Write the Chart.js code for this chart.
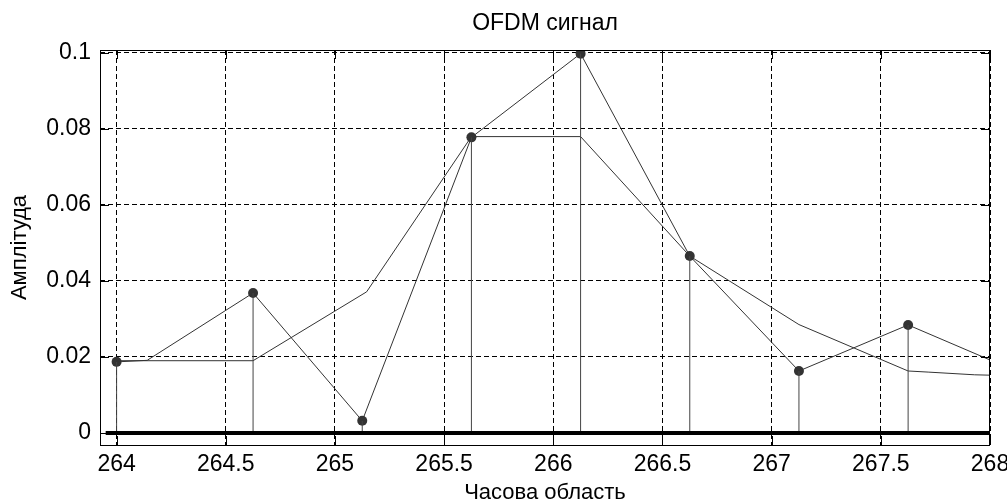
<!DOCTYPE html>
<html>
<head>
<meta charset="utf-8">
<script src="https://cdn.jsdelivr.net/npm/chart.js@4.4.1/dist/chart.umd.min.js"></script>
<style>
  html, body { margin: 0; padding: 0; background: #fff; }
  canvas { display: block; }
</style>
</head>
<body>
<canvas id="chart" width="1007" height="504"></canvas>
<script>
// Sampled points (stems with dots)
const stemX = [264, 264.625, 265.125, 265.625, 266.125, 266.625, 267.125, 267.625];
const stemY = [0.0187, 0.0368, 0.0032, 0.0777, 0.0997, 0.0465, 0.0163, 0.0284];

// Line joining the samples
const lineAX = [264, 264.14, 264.625, 265.125, 265.625, 266.125, 266.625, 267.125, 267.625, 268];
const lineAY = [0.0187, 0.0191, 0.0368, 0.0032, 0.0777, 0.0997, 0.0465, 0.0163, 0.0284, 0.0192];

// Second (reference) line
const lineBX = [264, 264.625, 265.145, 265.625, 266.125, 266.625, 267.125, 267.625, 267.72, 267.93, 268];
const lineBY = [0.0190, 0.0190, 0.0371, 0.0779, 0.0779, 0.0465, 0.0285, 0.0163, 0.0160, 0.0153, 0.0152];

// Stem baseline
const baseX = [263.95, 268];
const baseY = [0, 0];

// Axes
const xTicks = [264, 264.5, 265, 265.5, 266, 266.5, 267, 267.5, 268];
const xTickLabels = ['264', '264.5', '265', '265.5', '266', '266.5', '267', '267.5', '268'];
const yTicks = [0, 0.02, 0.04, 0.06, 0.08, 0.1];
const yTickLabels = ['0', '0.02', '0.04', '0.06', '0.08', '0.1'];

const FONT = '"Liberation Sans", Arial, sans-serif';
const toPts = (xs, ys) => xs.map((x, i) => ({ x: x, y: ys[i] }));

// vertical stems: 0 -> value, broken by null gaps
const stemPts = [];
stemX.forEach((x, i) => {
  stemPts.push({ x: x, y: 0 }, { x: x, y: stemY[i] }, { x: x, y: null });
});

// box frame + inward tick marks, MATLAB style
const frameTicks = {
  id: 'frameTicks',
  afterDatasetsDraw(chart) {
    const { ctx, chartArea: a, scales: { x, y } } = chart;
    const len = 9;
    ctx.save();
    ctx.strokeStyle = '#000';
    ctx.lineWidth = 1;
    ctx.beginPath();
    xTicks.forEach(v => {
      const px = Math.round(x.getPixelForValue(v)) + 0.5;
      ctx.moveTo(px, a.bottom); ctx.lineTo(px, a.bottom - len);
      ctx.moveTo(px, a.top); ctx.lineTo(px, a.top + len);
    });
    yTicks.forEach(v => {
      const py = Math.round(y.getPixelForValue(v)) + 0.5;
      ctx.moveTo(a.left, py); ctx.lineTo(a.left + len, py);
      ctx.moveTo(a.right, py); ctx.lineTo(a.right - len, py);
    });
    ctx.stroke();
    ctx.strokeRect(Math.round(a.left) + 0.5, Math.round(a.top) + 0.5,
      Math.round(a.right - a.left) - 1, Math.round(a.bottom - a.top));
    ctx.restore();
  }
};

const noPad = axis => { axis.paddingLeft = 0; axis.paddingRight = 0; };

new Chart(document.getElementById('chart'), {
  type: 'line',
  data: {
    datasets: [
      {
        data: toPts(baseX, baseY),
        borderColor: '#000', borderWidth: 4, pointRadius: 0
      },
      {
        data: stemPts,
        borderColor: '#444', borderWidth: 1, pointRadius: 0, spanGaps: false
      },
      {
        data: toPts(lineBX, lineBY),
        borderColor: '#333', borderWidth: 1, pointRadius: 0
      },
      {
        data: toPts(lineAX, lineAY),
        borderColor: '#333', borderWidth: 1, pointRadius: 0
      },
      {
        data: toPts(stemX, stemY),
        showLine: false, pointRadius: 5, pointBorderWidth: 0,
        pointBackgroundColor: '#333', borderColor: '#333'
      }
    ]
  },
  options: {
    responsive: false,
    animation: false,
    layout: { padding: { left: 0, right: 17, top: 0, bottom: 0 } },
    plugins: {
      legend: { display: false },
      tooltip: { enabled: false },
      title: { display: false }
    },
    scales: {
      x: {
        type: 'linear',
        min: 263.924,
        max: 268,
        afterBuildTicks: axis => { axis.ticks = xTicks.map(v => ({ value: v })); },
        afterFit: axis => { axis.height = 59; noPad(axis); },
        ticks: {
          autoSkip: false, maxRotation: 0, padding: 6, color: '#000',
          font: { family: FONT, size: 23 },
          callback: (v, i) => xTickLabels[i]
        },
        grid: { color: '#000', lineWidth: 1, drawTicks: false },
        border: { display: false, dash: [5, 3] },
        title: {
          display: true, text: 'Часова область', color: '#000',
          font: { family: FONT, size: 22, lineHeight: 1 },
          padding: { top: 0, bottom: 0 }
        }
      },
      // top axis only carries the chart title, centred over the plot box
      x2: {
        type: 'linear',
        position: 'top',
        min: 263.924,
        max: 268,
        afterFit: axis => { axis.height = 50; noPad(axis); },
        ticks: { display: false },
        grid: { display: false },
        border: { display: false },
        title: {
          display: true, text: 'OFDM сигнал', color: '#000',
          font: { family: FONT, size: 23, lineHeight: 1 },
          padding: { top: 12.5, bottom: 0 }
        }
      },
      y: {
        type: 'linear',
        min: -0.00315,
        max: 0.10066,
        afterBuildTicks: axis => { axis.ticks = yTicks.map(v => ({ value: v })); },
        afterFit: axis => { axis.width = 100; },
        ticks: {
          autoSkip: false, padding: 9, color: '#000',
          font: { family: FONT, size: 23 },
          callback: (v, i) => yTickLabels[i]
        },
        grid: { color: '#000', lineWidth: 1, drawTicks: false },
        border: { display: false, dash: [5, 3] },
        title: {
          display: true, text: 'Амплітуда', color: '#000',
          font: { family: FONT, size: 22, lineHeight: 1 },
          padding: { top: 9, bottom: 0 }
        }
      }
    }
  },
  plugins: [frameTicks]
});
</script>
</body>
</html>
